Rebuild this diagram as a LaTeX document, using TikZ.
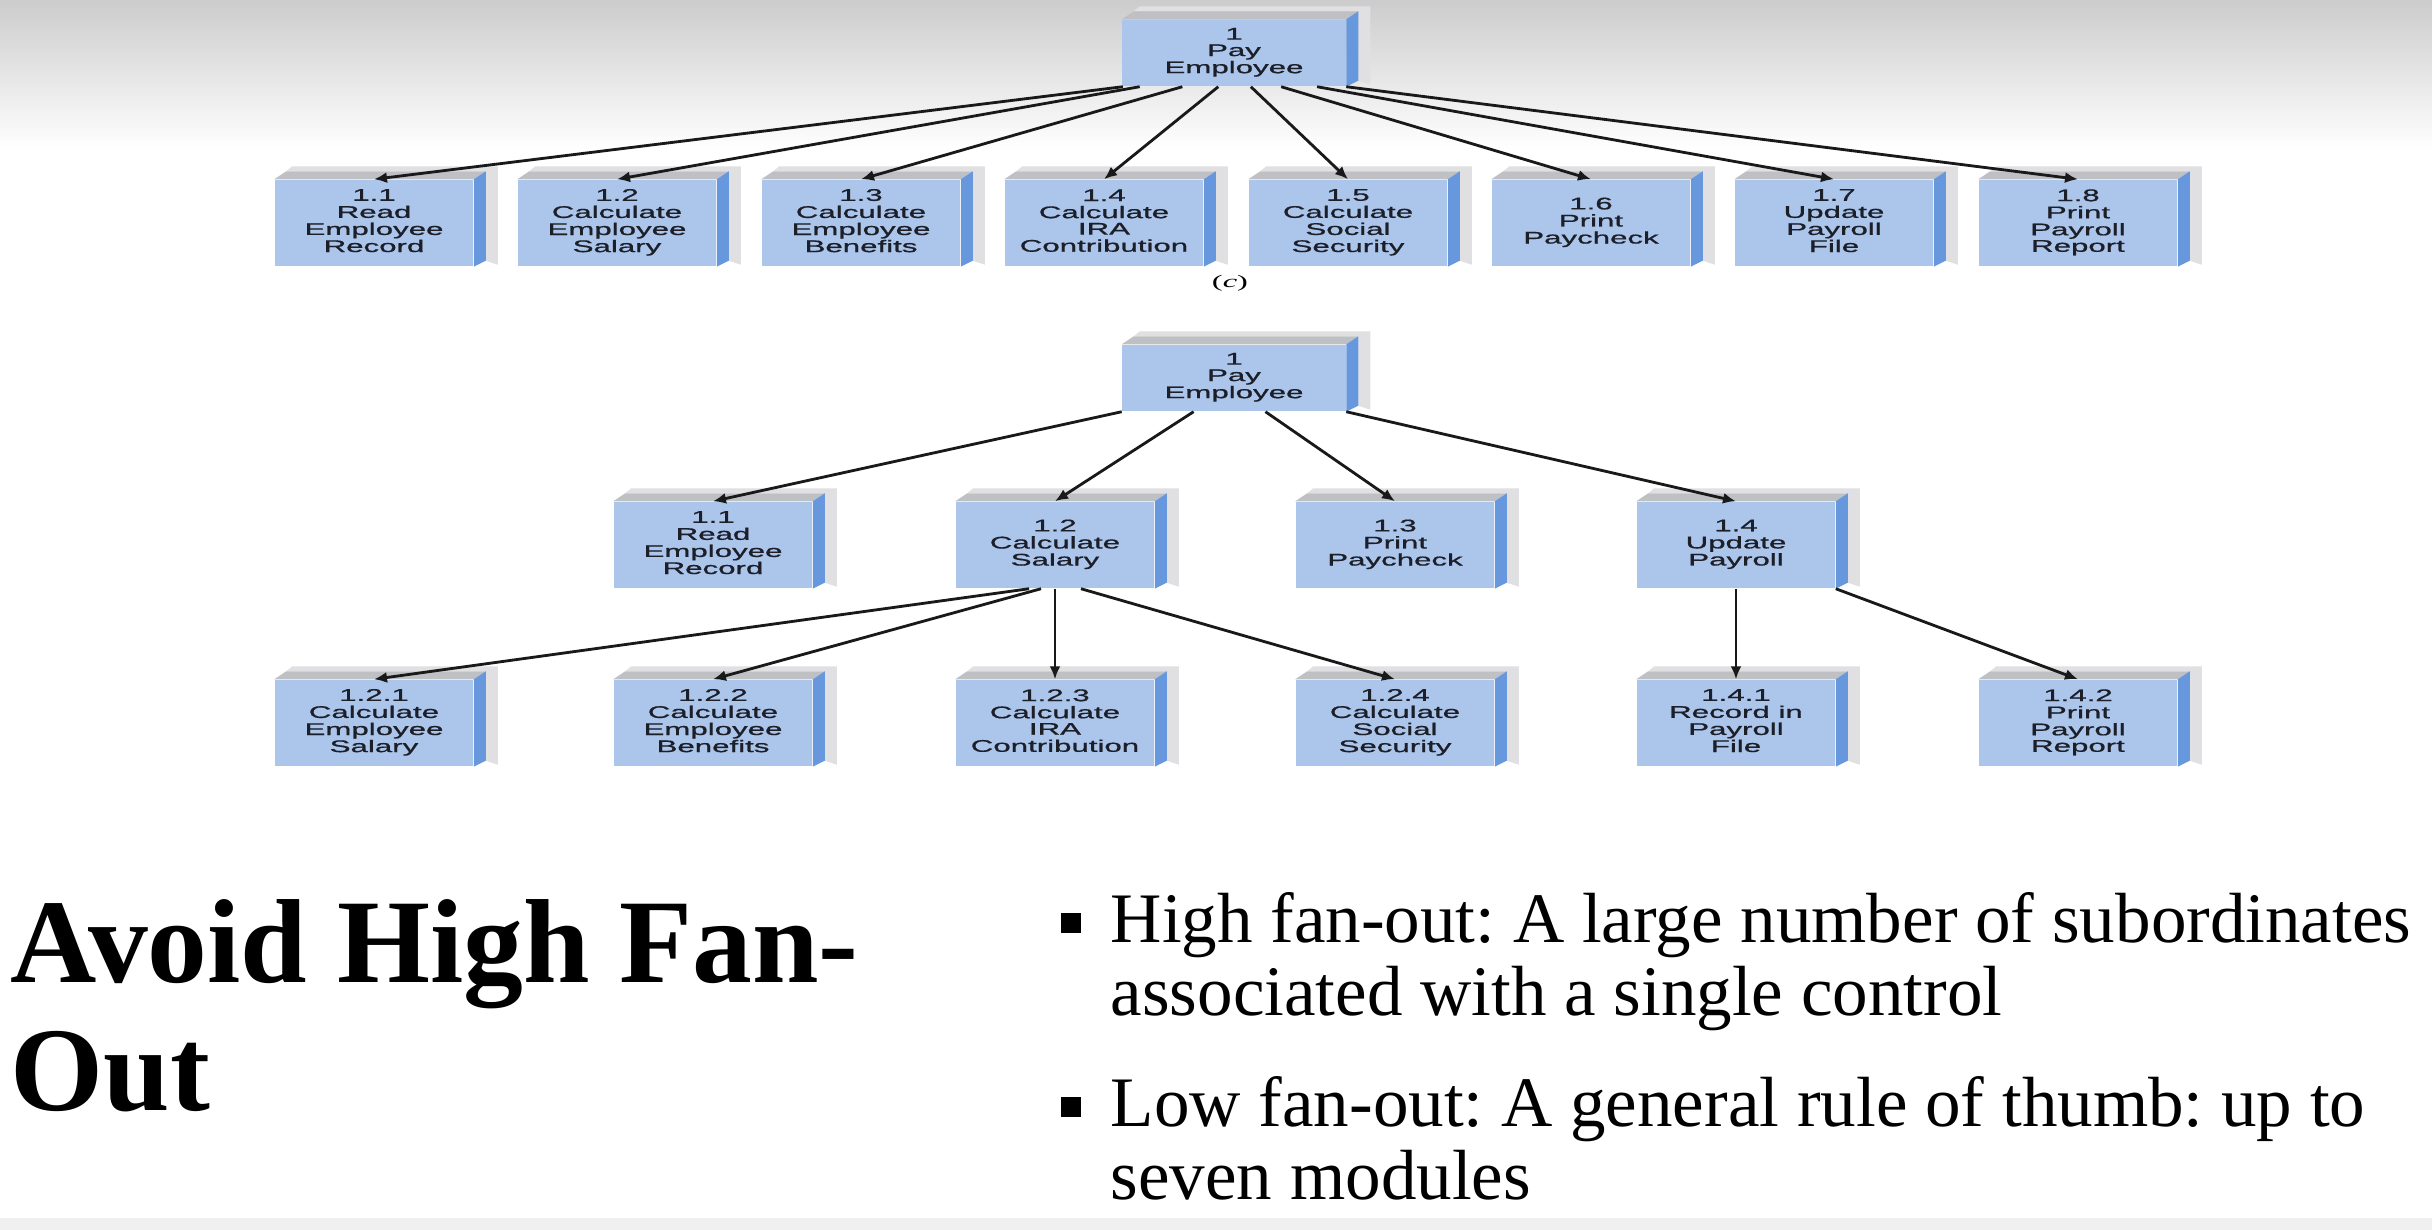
\documentclass[tikz,border=0pt]{standalone}
\usepackage{fontspec}
\usepackage{graphicx}
\setmainfont{Liberation Serif}
\newfontfamily\boxfont[FakeBold=0.7]{Liberation Sans}
\usetikzlibrary{calc,arrows.meta}
\frenchspacing

\definecolor{boxfront}{RGB}{171,197,235}
\definecolor{boxside}{RGB}{103,151,221}
\definecolor{boxtop}{RGB}{190,192,196}
\definecolor{boxshadow}{RGB}{224,224,226}
\definecolor{boxtext}{RGB}{28,30,40}
\definecolor{linkcol}{RGB}{25,25,25}

% wide, squashed box labels
\newcommand{\modtext}[1]{\scalebox{1.85}[1]{\begin{tabular}{@{}c@{}}#1\end{tabular}}}

\tikzset{
  modbox/.style={fill=boxfront, minimum width=1.98cm, minimum height=0.86cm, inner sep=0pt,
    text=boxtext, font=\boxfont\fontsize{4.8}{4.6}\selectfont},
  rootbox/.style={modbox, minimum width=2.23cm, minimum height=0.66cm},
  link/.style={->, draw=linkcol, line width=0.8pt},
  bigtitle/.style={anchor=base west, inner sep=0pt, font=\bfseries\fontsize{34}{36}\selectfont},
  bullettext/.style={anchor=base west, inner sep=0pt, font=\fontsize{20.2}{21}\selectfont},
  bulletsq/.style={fill=black, minimum size=0.2cm, inner sep=0pt},
}

\begin{document}
\begin{tikzpicture}[x=0.01cm, y=-0.01cm, >={Latex[length=1.3mm,width=1.1mm]}]
  \useasboundingbox (0,0) rectangle (2432,1230);
  \fill[white] (0,0) rectangle (2432,1230);
  \shade[top color=black!20, bottom color=white] (0,0) rectangle (2432,150);
  \fill[black!6] (0,1218) rectangle (2432,1230);

  % (c) one level, eight subordinates
  \node[rootbox] (topr) at (1234,53) {\modtext{1\\Pay\\Employee}};
  \node[modbox] (t11) at (374,223) {\modtext{1.1\\Read\\Employee\\Record}};
  \node[modbox] (t12) at (617,223) {\modtext{1.2\\Calculate\\Employee\\Salary}};
  \node[modbox] (t13) at (861,223) {\modtext{1.3\\Calculate\\Employee\\Benefits}};
  \node[modbox] (t14) at (1104,223) {\modtext{1.4\\Calculate\\IRA\\Contribution}};
  \node[modbox] (t15) at (1348,223) {\modtext{1.5\\Calculate\\Social\\Security}};
  \node[modbox] (t16) at (1591,223) {\modtext{1.6\\Print\\Paycheck}};
  \node[modbox] (t17) at (1834,223) {\modtext{1.7\\Update\\Payroll\\File}};
  \node[modbox] (t18) at (2078,223) {\modtext{1.8\\Print\\Payroll\\Report}};
  \node[font=\fontsize{5}{5}\selectfont] (clabel) at (1230,283) {\scalebox{1.85}[1]{(\textit{c})}};

  % two levels, low fan-out
  \node[rootbox] (botr) at (1234,378) {\modtext{1\\Pay\\Employee}};
  \node[modbox] (b11) at (713,545) {\modtext{1.1\\Read\\Employee\\Record}};
  \node[modbox] (b12) at (1055,545) {\modtext{1.2\\Calculate\\Salary}};
  \node[modbox] (b13) at (1395,545) {\modtext{1.3\\Print\\Paycheck}};
  \node[modbox] (b14) at (1736,545) {\modtext{1.4\\Update\\Payroll}};
  \node[modbox] (b121) at (374,723) {\modtext{1.2.1\\Calculate\\Employee\\Salary}};
  \node[modbox] (b122) at (713,723) {\modtext{1.2.2\\Calculate\\Employee\\Benefits}};
  \node[modbox] (b123) at (1055,723) {\modtext{1.2.3\\Calculate\\IRA\\Contribution}};
  \node[modbox] (b124) at (1395,723) {\modtext{1.2.4\\Calculate\\Social\\Security}};
  \node[modbox] (b141) at (1736,723) {\modtext{1.4.1\\Record in\\Payroll\\File}};
  \node[modbox] (b142) at (2078,723) {\modtext{1.4.2\\Print\\Payroll\\Report}};

  % shadow, top and side faces
  \foreach \n in {topr,t11,t12,t13,t14,t15,t16,t17,t18,botr,b11,b12,b13,b14,b121,b122,b123,b124,b141,b142} {
    \fill[boxshadow] ($(\n.north west)+(12,-8)$) -- ($(\n.north west)+(18,-13)$) -- ($(\n.north east)+(24,-13)$)
      -- ($(\n.south east)+(24,-2)$) -- ($(\n.south east)+(12,-6)$) -- ($(\n.north east)+(12,-8)$) -- cycle;
    \fill[boxtop] (\n.north west) -- ++(12,-8) -- ($(\n.north east)+(12,-8)$) -- (\n.north east) -- cycle;
    \fill[boxside] (\n.north east) -- ++(12,-8) -- ($(\n.south east)+(12,-6)$) -- (\n.south east) -- cycle;
  }

  % connectors
  \foreach \f/\n in {0.005/t11,0.08/t12,0.27/t13,0.43/t14,0.575/t15,0.71/t16,0.87/t17,1/t18}
    \draw[link] ($(topr.south west)!\f!(topr.south east)$) -- (\n.north);
  \foreach \f/\n in {0/b11,0.32/b12,0.64/b13,1/b14}
    \draw[link] ($(botr.south west)!\f!(botr.south east)$) -- (\n.north);
  \foreach \f/\n in {0.37/b121,0.43/b122,0.5/b123,0.63/b124}
    \draw[link] ($(b12.south west)!\f!(b12.south east)$) -- (\n.north);
  \foreach \f/\n in {0.5/b141,1/b142}
    \draw[link] ($(b14.south west)!\f!(b14.south east)$) -- (\n.north);

  % slide text
  \node[bigtitle] (title1) at (10,982) {Avoid High Fan-};
  \node[bigtitle] (title2) at (10,1110) {Out};
  \node[bulletsq] (sq1) at (1071,923) {};
  \node[bullettext] (high1) at (1110,942) {High fan-out: A large number of subordinates};
  \node[bullettext] (high2) at (1110,1015) {associated with a single control};
  \node[bulletsq] (sq2) at (1071,1107) {};
  \node[bullettext] (low1) at (1110,1126) {Low fan-out: A general rule of thumb: up to};
  \node[bullettext] (low2) at (1110,1199) {seven modules};
\end{tikzpicture}
\end{document}
